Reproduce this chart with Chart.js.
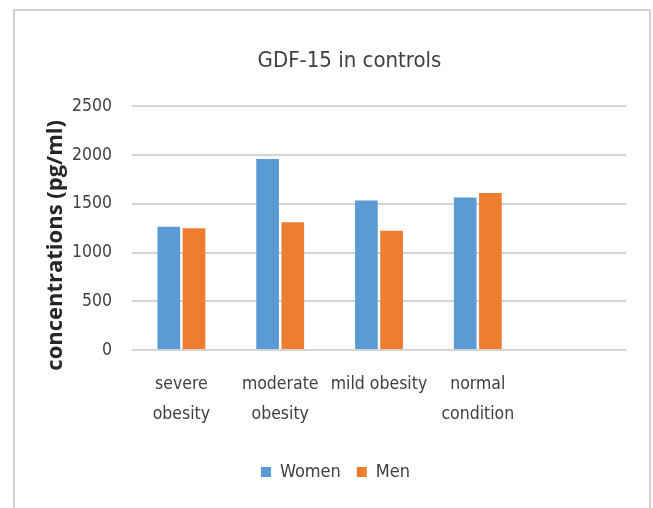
<!DOCTYPE html>
<html lang="en">
<head>
    <meta charset="UTF-8">
    <title>GDF-15 in controls</title>
    <script src="https://cdn.jsdelivr.net/npm/chart.js"></script>
    <style>
        html, body {
            margin: 0;
            padding: 0;
            background: #fff;
            overflow: hidden;
        }
        .frame {
            position: relative;
            width: 653px;
            height: 508px;
        }
        /* light grey frame round the chart, open at the bottom */
        .frame::before {
            content: '';
            position: absolute;
            left: 13px;
            top: 9px;
            width: 634px;
            height: 520px;
            border: 2px solid #d0d0d0;
            pointer-events: none;
        }
        canvas {
            position: absolute;
            left: 0;
            top: 0;
        }
    </style>
</head>
<body>
    <div class="frame">
        <canvas id="gdfChart" width="653" height="508"></canvas>
    </div>
    <script>
        const categories = [['severe', 'obesity'], ['moderate', 'obesity'], ['mild obesity'], ['normal', 'condition'], ''];
        const women = [1265, 1960, 1535, 1565, null];
        const men = [1250, 1310, 1225, 1610, null];
        const yTicks = [0, 500, 1000, 1500, 2000, 2500];

        const narrow = '"Liberation Sans Narrow", "DejaVu Sans Condensed", "Liberation Sans", sans-serif';
        const textColor = '#404040';

        // title and legend sit a little right of the frame centre
        const nudge = {
            id: 'nudge',
            afterLayout(chart) {
                chart.titleBlock.left += 30;
                chart.titleBlock.right += 30;
                chart.legend.left += 16;
                chart.legend.right += 16;
            }
        };

        const chart = new Chart(document.getElementById('gdfChart').getContext('2d'), {
            type: 'bar',
            data: {
                labels: categories,
                datasets: [
                    { label: 'Women', data: women, backgroundColor: '#5b9bd5', categoryPercentage: 0.51, barPercentage: 0.9 },
                    { label: 'Men', data: men, backgroundColor: '#ed7d31', categoryPercentage: 0.51, barPercentage: 0.9 }
                ]
            },
            plugins: [nudge],
            options: {
                responsive: false,
                animation: false,
                layout: { padding: { left: 13, right: 27, top: 0, bottom: 17 } },
                plugins: {
                    tooltip: { enabled: false },
                    title: {
                        display: true,
                        text: 'GDF-15 in controls',
                        color: textColor,
                        font: { family: narrow, size: 22, weight: 'normal' },
                        padding: { top: 48, bottom: 32 }
                    },
                    legend: {
                        position: 'bottom',
                        labels: {
                            color: textColor,
                            font: { family: narrow, size: 18 },
                            boxWidth: 10,
                            boxHeight: 10,
                            padding: 16
                        }
                    }
                },
                scales: {
                    x: {
                        grid: { display: false, drawTicks: false },
                        border: { display: false },
                        ticks: {
                            color: textColor,
                            font: { family: narrow, size: 17.5, lineHeight: 1.75 },
                            padding: 19,
                            maxRotation: 0,
                            autoSkip: false
                        },
                        afterFit: s => { s.height = 97; }
                    },
                    y: {
                        min: 0,
                        max: 2500,
                        afterBuildTicks: s => { s.ticks = yTicks.map(v => ({ value: v })); },
                        grid: { color: '#d4d4d4', lineWidth: 2, drawTicks: false },
                        border: { display: false },
                        ticks: {
                            color: textColor,
                            font: { family: narrow, size: 17.5 },
                            padding: 20,
                            callback: v => String(v)
                        },
                        title: {
                            display: true,
                            text: 'concentrations (pg/ml)      ',
                            color: '#262626',
                            font: { family: '"Open Sans", sans-serif', size: 22, weight: 'bold' },
                            padding: { top: 30, bottom: 0 }
                        },
                        afterFit: s => { s.width = 119; }
                    }
                }
            }
        });
    </script>
</body>
</html>
